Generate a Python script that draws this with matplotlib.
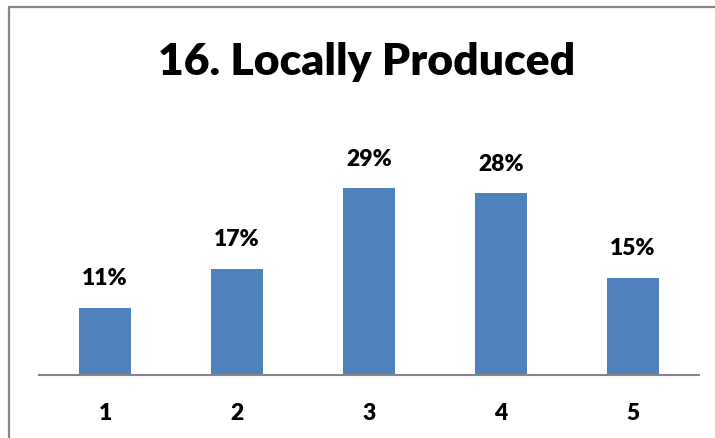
import matplotlib
matplotlib.use("Agg")
import matplotlib.pyplot as plt
from matplotlib.patches import Rectangle

categories = ["1", "2", "3", "4", "5"]
values = [10.4, 16.5, 29.0, 28.3, 15.1]
value_labels = ["11%", "17%", "29%", "28%", "15%"]
title = "16. Locally Produced"

W, H = 715, 439
fig = plt.figure(figsize=(W / 100, H / 100), dpi=100)
fig.patch.set_facecolor("white")

# outer chart border (cropped at right and bottom)
fig.patches.append(Rectangle((9 / W, -0.05), 1.2, 1 - 8 / H + 0.05,
                             transform=fig.transFigure, fill=False,
                             edgecolor="#868686", linewidth=1.6, zorder=0))

ax_left, ax_right = 39 / W, 699 / W
ax_bottom = 1 - 375.5 / H
ax_top = 1 - 151 / H
ax = fig.add_axes([ax_left, ax_bottom, ax_right - ax_left, ax_top - ax_bottom])
ax.set_facecolor("none")

x = list(range(len(categories)))
bars = ax.bar(x, values, width=0.4, color="#4F81BD", zorder=2)
ax.set_xlim(-0.5, len(categories) - 0.5)
ax.set_ylim(0, 35)

for b, lab in zip(bars, value_labels):
    ax.annotate(lab, (b.get_x() + b.get_width() / 2, b.get_height()),
                xytext=(0, 14), textcoords="offset points",
                ha="center", va="bottom", fontsize=16.5, fontweight="heavy",
                family="Lato", color="black")

for s in ["top", "right", "left"]:
    ax.spines[s].set_visible(False)
ax.spines["bottom"].set_color("#868686")
ax.spines["bottom"].set_linewidth(1.5)
ax.set_yticks([])
ax.set_xticks(x)
ax.set_xticklabels(categories, fontsize=16.5, fontweight="heavy", family="Lato")
ax.tick_params(axis="x", length=0, pad=20)

fig.text(367 / W, 1 - 75 / H, title, ha="center", va="baseline",
         fontsize=32, fontweight="heavy", family="Lato")

fig.savefig("out.png", dpi=100)
